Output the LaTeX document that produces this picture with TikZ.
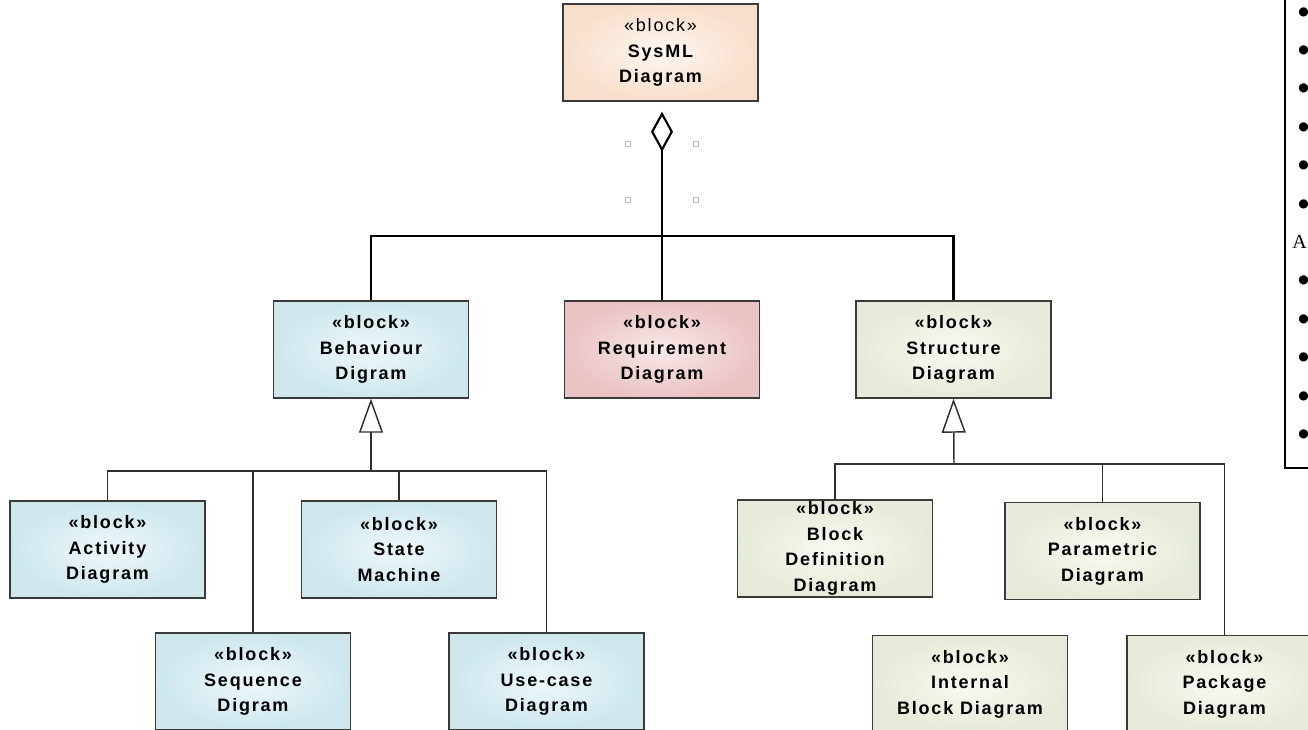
\documentclass[tikz,border=0pt]{standalone}
\usepackage{fontspec}
\setmainfont{Liberation Sans}
\newfontfamily\legendfont{Liberation Serif}
\newfontfamily\dotfont{DejaVu Sans}
\usetikzlibrary{arrows.meta}

\definecolor{boxline}{HTML}{3A3A3A}
\definecolor{genline}{HTML}{303030}
\definecolor{sysin}{HTML}{FDF6F0}
\definecolor{sysout}{HTML}{F8DFCC}
\definecolor{behin}{HTML}{EEF8FA}
\definecolor{behout}{HTML}{CDE7ED}
\definecolor{reqin}{HTML}{F8E8E8}
\definecolor{reqout}{HTML}{EAC3C5}
\definecolor{strin}{HTML}{F8FAF2}
\definecolor{strout}{HTML}{E5EBD8}
\definecolor{handle}{HTML}{BBBBBB}

\newcommand{\blkfont}{\fontsize{13.5pt}{19.1pt}\selectfont\bfseries\addfontfeatures{LetterSpace=10}}

\tikzset{
  blockbox/.style={draw=boxline, line width=1.1pt, minimum width=146.25pt,
    minimum height=72.75pt, inner sep=0pt, align=center, font=\blkfont},
  peachbox/.style={blockbox, inner color=sysin, outer color=sysout},
  bluebox/.style={blockbox, inner color=behin, outer color=behout},
  redbox/.style={blockbox, inner color=reqin, outer color=reqout},
  greenbox/.style={blockbox, inner color=strin, outer color=strout},
  blocktext/.style={inner sep=0pt, align=center, font=\blkfont},
  agg/.style={draw=black, line width=2.2pt},
  gen/.style={draw=genline, line width=1.1pt},
  genhead/.style={-{Triangle[open, length=25.5pt, width=18pt, line width=1.1pt]}},
  selhandle/.style={draw=handle, line width=0.6pt, fill=white, minimum size=3.8pt, inner sep=0pt},
  legenddot/.style={inner sep=0pt, font=\dotfont\fontsize{9pt}{10pt}\selectfont},
  legendtext/.style={inner sep=0pt, font=\legendfont\fontsize{15pt}{16pt}\selectfont}
}

\begin{document}
\begin{tikzpicture}[x=0.75pt, y=-0.75pt]
\useasboundingbox (0,0) rectangle (1308,730);
\clip (0,0) rectangle (1308,730);

% root and first level
\node[peachbox] (sys) at (660.5,52.5) {{\mdseries «block»}\\SysML\\Diagram};
\node[bluebox] (beh) at (371,349.5) {«block»\\Behaviour\\Digram};
\node[redbox] (req) at (662,349.5) {«block»\\Requirement\\Diagram};
\node[greenbox] (str) at (953.5,349.5) {«block»\\Structure\\Diagram};

% behaviour diagrams
\node[bluebox] (act) at (107.5,549.5) {«block»\\Activity\\Diagram};
\node[bluebox] (sta) at (399,549.5) {«block»\\State\\Machine};
\node[bluebox] (seq) at (253,681.5) {«block»\\Sequence\\Digram};
\node[bluebox] (use) at (546.5,681.5) {«block»\\Use-case\\Diagram};

% structure diagrams
\node[greenbox] (bdd) at (835,548.5) {};
\node[blocktext] (bddtext) at (bdd.center) {«block»\\Block\\Definition\\Diagram};
\node[greenbox] (par) at (1102.5,551) {«block»\\Parametric\\Diagram};
\node[greenbox] (ibd) at (970,684) {«block»\\Internal\\Block Diagram};
\node[greenbox] (pkg) at (1224.5,684) {«block»\\Package\\Diagram};

% composition of the three diagram kinds
\coordinate (bus) at (662,236);
\draw[agg] (beh.north) |- (bus) -| (str.north);
\draw[agg, -{Diamond[open, length=30pt, width=16.5pt, line width=1.6pt]}, shorten >=7.5pt]
  (req.north) -- (req.north |- sys.south);

% selection handles around the diamond
\node[selhandle] (h1) at (628,144) {};
\node[selhandle] (h2) at (696,144) {};
\node[selhandle] (h3) at (628,200) {};
\node[selhandle] (h4) at (696,200) {};

% generalisation of behaviour diagrams
\coordinate (bbus) at (371,471);
\draw[gen, genhead] (bbus) -- (beh.south);
\draw[gen] (act.north) |- (bbus) -| (use.north);
\draw[gen] (seq.north) -- (seq.north |- bbus);
\draw[gen] (sta.north) -- (sta.north |- bbus);

% generalisation of structure diagrams
\coordinate (sbus) at (954,464);
\draw[gen, genhead] (sbus) -- (str.south);
\draw[gen] (bdd.north) |- (sbus) -| (pkg.north);
\draw[gen] (par.north) -- (par.north |- sbus);

% side list
\coordinate (lgtop) at (1285,-5);
\coordinate (lgcorner) at (1320,468);
\draw[line width=1.5pt] (lgtop) |- (lgcorner);
\foreach \i/\y in {1/12,2/50.4,3/88.8,4/127.2,5/165.6,6/204,8/280.8,9/319.2,10/357.6,11/396,12/434.4}
  \node[legenddot] (li\i) at (1303.5,\y) {●};
\node[legendtext, anchor=west] (li7) at (1292,242) {A};
\end{tikzpicture}
\end{document}
